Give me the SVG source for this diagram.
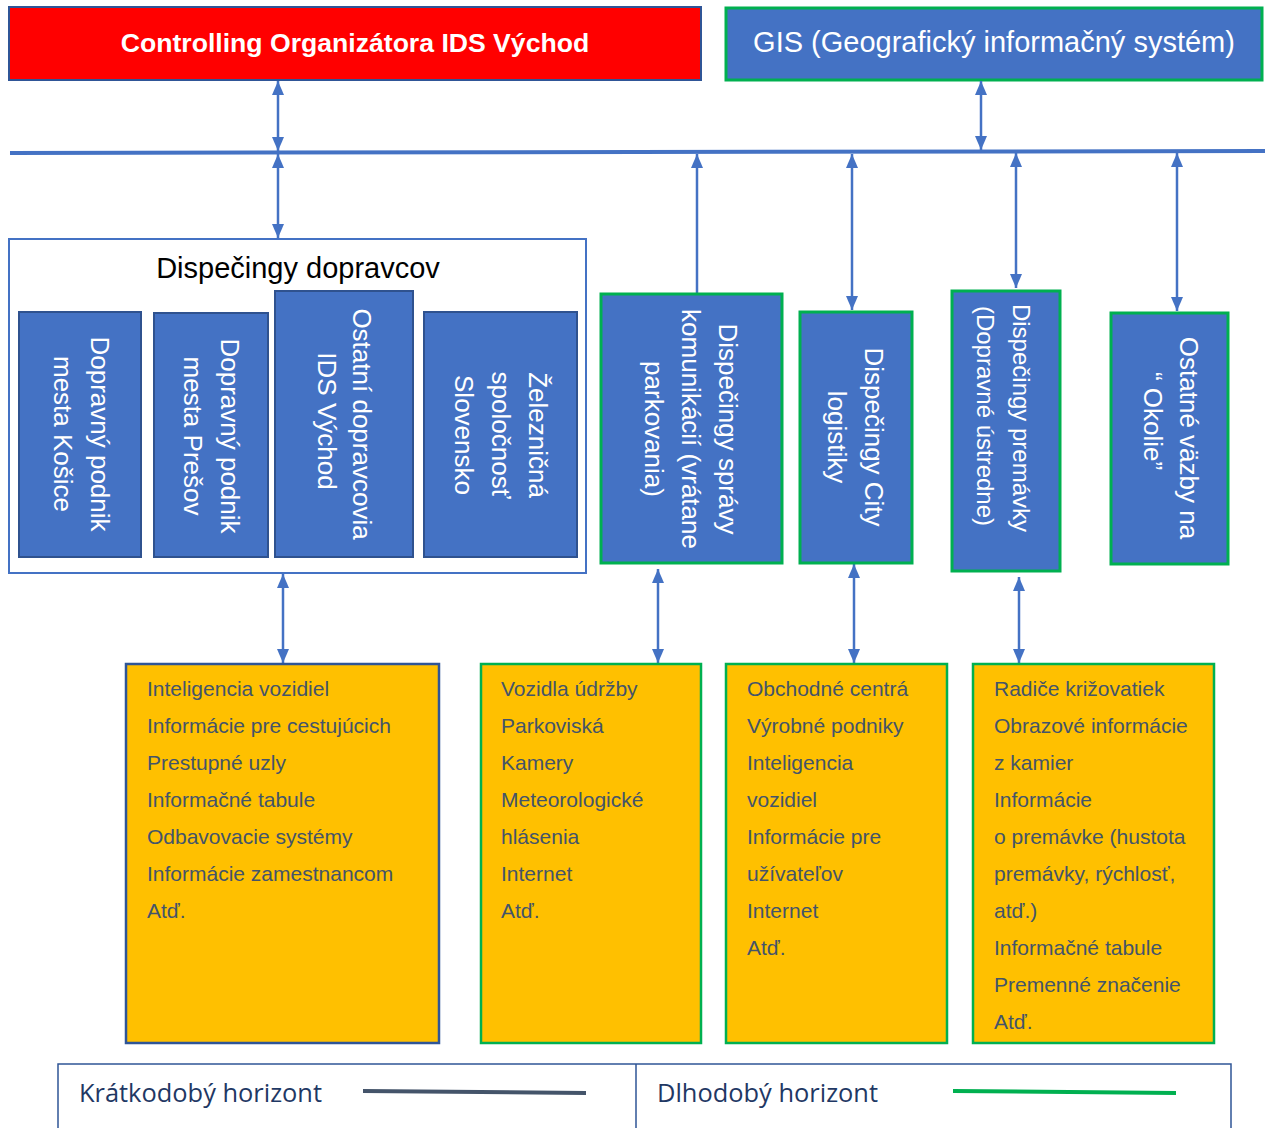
<svg xmlns="http://www.w3.org/2000/svg" width="1265" height="1128" viewBox="0 0 1265 1128">
<style>
.t{font-family:"Liberation Sans",Arial,sans-serif}
.rot{font-family:"Liberation Sans",Arial,sans-serif;font-size:26px;fill:#fff;text-anchor:middle}
.rot24{font-family:"Liberation Sans",Arial,sans-serif;font-size:24px;fill:#fff;text-anchor:middle}
.blue{fill:#4472C4;stroke:#2F528F;stroke-width:2}
.bluegreen{fill:#4472C4;stroke:#00B050;stroke-width:3}
.yel{fill:#FFC000;stroke:#00B050;stroke-width:2.5}
.item{font-family:"Liberation Sans",Arial,sans-serif;font-size:21px;fill:#44546A}
.conn{stroke:#4472C4;stroke-width:2.5;fill:none}
.leg{font-family:"Liberation Sans Narrow","Open Sans",sans-serif;font-size:26px;fill:#1F3864}
</style>
<defs>
<marker id="ah" viewBox="0 0 14 12" refX="14" refY="6" markerWidth="14" markerHeight="12" markerUnits="userSpaceOnUse" orient="auto-start-reverse">
<path d="M0,0 L14,6 L0,12 z" fill="#4472C4"/>
</marker>
</defs>
<rect width="1265" height="1128" fill="#fff"/>

<g id="controlling">
<rect x="9" y="7" width="692" height="73" fill="#FF0000" stroke="#2F5597" stroke-width="2"/>
<text class="t" x="355" y="52" font-size="26.6" font-weight="bold" fill="#fff" text-anchor="middle">Controlling Organizátora IDS Východ</text>
</g>
<g id="gis">
<rect x="726" y="8" width="536" height="72" class="bluegreen"/>
<text class="t" x="994" y="52" font-size="29" fill="#fff" text-anchor="middle">GIS (Geografický informačný systém)</text>
</g>

<g id="connectors">
<line x1="10" y1="153" x2="1265" y2="151" stroke="#4472C4" stroke-width="4"/>
<line class="conn" x1="278" y1="81" x2="278" y2="151" marker-start="url(#ah)" marker-end="url(#ah)"/>
<line class="conn" x1="278" y1="154" x2="278" y2="238" marker-start="url(#ah)" marker-end="url(#ah)"/>
<line class="conn" x1="981" y1="81" x2="981" y2="150" marker-start="url(#ah)" marker-end="url(#ah)"/>
<line class="conn" x1="697" y1="294" x2="697" y2="154" marker-end="url(#ah)"/>
<line class="conn" x1="852" y1="154" x2="852" y2="310" marker-start="url(#ah)" marker-end="url(#ah)"/>
<line class="conn" x1="1016" y1="153" x2="1016" y2="288" marker-start="url(#ah)" marker-end="url(#ah)"/>
<line class="conn" x1="1177" y1="153" x2="1177" y2="311" marker-start="url(#ah)" marker-end="url(#ah)"/>
<line class="conn" x1="283" y1="574" x2="283" y2="663" marker-start="url(#ah)" marker-end="url(#ah)"/>
<line class="conn" x1="658" y1="569" x2="658" y2="663" marker-start="url(#ah)" marker-end="url(#ah)"/>
<line class="conn" x1="854" y1="564" x2="854" y2="663" marker-start="url(#ah)" marker-end="url(#ah)"/>
<line class="conn" x1="1019" y1="577" x2="1019" y2="663" marker-start="url(#ah)" marker-end="url(#ah)"/>
</g>

<g id="dispecingy-dopravcov">
<rect x="9" y="239" width="577" height="334" fill="#fff" stroke="#4472C4" stroke-width="2"/>
<text class="t" x="298" y="278" font-size="29" fill="#000" text-anchor="middle">Dispečingy dopravcov</text>
</g>

<g id="dp-kosice">
<rect x="19" y="312" width="122" height="245" class="blue"/>
<text class="rot" transform="translate(100,434) rotate(90)" y="9">Dopravný podnik</text>
<text class="rot" transform="translate(63,434) rotate(90)" y="9">mesta Košice</text>
</g>
<g id="dp-presov">
<rect x="154" y="313" width="114" height="244" class="blue"/>
<text class="rot" transform="translate(230,436) rotate(90)" y="9">Dopravný podnik</text>
<text class="rot" transform="translate(193,436) rotate(90)" y="9">mesta Prešov</text>
</g>
<g id="ostatni-dopravcovia">
<rect x="275" y="291" width="138" height="266" class="blue"/>
<text class="rot" transform="translate(362,424) rotate(90)" y="9">Ostatní dopravcovia</text>
<text class="rot" transform="translate(327,421) rotate(90)" y="9">IDS Východ</text>
</g>
<g id="zsr">
<rect x="424" y="312" width="153" height="245" class="blue"/>
<text class="rot" transform="translate(538,435) rotate(90)" y="9">Železničná</text>
<text class="rot" transform="translate(501,435) rotate(90)" y="9">spoločnosť</text>
<text class="rot" transform="translate(464,435) rotate(90)" y="9">Slovensko</text>
</g>

<g id="sprava-komunikacii">
<rect x="601" y="294" width="181" height="269" class="bluegreen"/>
<text class="rot" transform="translate(728,429) rotate(90)" y="9">Dispečingy správy</text>
<text class="rot" transform="translate(691,429) rotate(90)" y="9">komunikácií (vrátane</text>
<text class="rot" transform="translate(654,429) rotate(90)" y="9">parkovania)</text>
</g>
<g id="city-logistika">
<rect x="800" y="312" width="112" height="251" class="bluegreen"/>
<text class="rot" transform="translate(874,437) rotate(90)" y="9">Dispečingy City</text>
<text class="rot" transform="translate(837,437) rotate(90)" y="9">logistiky</text>
</g>
<g id="premavka">
<rect x="952" y="291" width="108" height="280" class="bluegreen"/>
<text class="rot24" transform="translate(1021,418) rotate(90)" y="8">Dispečingy premávky</text>
<text class="rot24" transform="translate(985,416) rotate(90)" y="8">(Dopravné ústredne)</text>
</g>
<g id="okolie">
<rect x="1111" y="313" width="117" height="251" class="bluegreen"/>
<text class="rot" transform="translate(1189,438) rotate(90)" y="9">Ostatné väzby na</text>
<text class="rot" transform="translate(1153,421) rotate(90)" y="9">“ Okolie”</text>
</g>

<g id="info-dopravcovia">
<rect x="126" y="664" width="313" height="379" fill="#FFC000" stroke="#2F5597" stroke-width="2.5"/>
<text class="item" x="147" y="696">Inteligencia vozidiel</text>
<text class="item" x="147" y="733">Informácie pre cestujúcich</text>
<text class="item" x="147" y="770">Prestupné uzly</text>
<text class="item" x="147" y="807">Informačné tabule</text>
<text class="item" x="147" y="844">Odbavovacie systémy</text>
<text class="item" x="147" y="881">Informácie zamestnancom</text>
<text class="item" x="147" y="918">Atď.</text>
</g>
<g id="info-sprava">
<rect x="481" y="664" width="220" height="379" class="yel"/>
<text class="item" x="501" y="696">Vozidla údržby</text>
<text class="item" x="501" y="733">Parkoviská</text>
<text class="item" x="501" y="770">Kamery</text>
<text class="item" x="501" y="807">Meteorologické</text>
<text class="item" x="501" y="844">hlásenia</text>
<text class="item" x="501" y="881">Internet</text>
<text class="item" x="501" y="918">Atď.</text>
</g>
<g id="info-city">
<rect x="726" y="664" width="221" height="379" class="yel"/>
<text class="item" x="747" y="696">Obchodné centrá</text>
<text class="item" x="747" y="733">Výrobné podniky</text>
<text class="item" x="747" y="770">Inteligencia</text>
<text class="item" x="747" y="807">vozidiel</text>
<text class="item" x="747" y="844">Informácie pre</text>
<text class="item" x="747" y="881">užívateľov</text>
<text class="item" x="747" y="918">Internet</text>
<text class="item" x="747" y="955">Atď.</text>
</g>
<g id="info-premavka">
<rect x="973" y="664" width="241" height="379" class="yel"/>
<text class="item" x="994" y="696">Radiče križovatiek</text>
<text class="item" x="994" y="733">Obrazové informácie</text>
<text class="item" x="994" y="770">z kamier</text>
<text class="item" x="994" y="807">Informácie</text>
<text class="item" x="994" y="844">o premávke (hustota</text>
<text class="item" x="994" y="881">premávky, rýchlosť,</text>
<text class="item" x="994" y="918">atď.)</text>
<text class="item" x="994" y="955">Informačné tabule</text>
<text class="item" x="994" y="992">Premenné značenie</text>
<text class="item" x="994" y="1029">Atď.</text>
</g>

<g id="legend">
<path d="M58,1128 V1064 H1231 V1128 M636,1064 V1128" fill="none" stroke="#2F5597" stroke-width="1.5"/>
<text class="leg" x="79" y="1102" textLength="243" lengthAdjust="spacingAndGlyphs">Krátkodobý horizont</text>
<line x1="363" y1="1091" x2="586" y2="1093" stroke="#44546A" stroke-width="4"/>
<text class="leg" x="657" y="1102" textLength="221" lengthAdjust="spacingAndGlyphs">Dlhodobý horizont</text>
<line x1="953" y1="1091" x2="1176" y2="1093" stroke="#00B050" stroke-width="4"/>
</g>
</svg>
